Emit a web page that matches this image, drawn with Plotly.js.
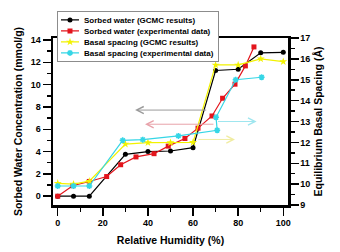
<!DOCTYPE html>
<html>
<head>
<meta charset="utf-8">
<script src="https://cdn.plot.ly/plotly-3.0.1.min.js"></script>
<style>
html,body{margin:0;padding:0;background:#fff;}
#chart{width:340px;height:252px;}
</style>
</head>
<body>
<div id="chart"></div>
<script>
// ---- data ----
var rhGCMC = [0, 7, 14, 30, 40, 50, 60, 70, 80, 90, 100];
var waterGCMC = [0, 0, 0, 3.75, 4.0, 4.05, 4.35, 11.27, 11.38, 12.85, 12.9];

var rhWaterExp = [0, 6.6, 14, 21.7, 27.9, 34.7, 42.7, 49, 56.4, 62.2, 68.4, 73.1, 78.6, 83.2, 87];
var waterExp = [0, 0.94, 1.32, 1.76, 2.82, 3.52, 3.81, 4.49, 5.17, 6.1, 7.19, 8.78, 10.04, 11.68, 13.38];

var rhBasalGCMC = [0, 7, 14, 30, 40, 50, 60, 70, 80, 90, 100];
var basalGCMC = [10.04, 10.0, 10.14, 11.92, 11.99, 11.99, 12.0, 15.71, 15.71, 16.0, 15.87];

var rhBasalExp = [0, 7, 14, 28.8, 37.7, 53.5, 70.7, 70.2, 78.9, 90.4];
var basalExp = [9.91, 9.91, 9.91, 12.1, 12.13, 12.31, 12.58, 13.2, 15.0, 15.12];

var seriesNames = [
  "Sorbed water (GCMC results)",
  "Sorbed water (experimental data)",
  "Basal spacing (GCMC results)",
  "Basal spacing (experimental data)"
];

// axis-indicator arrows: [y, tail x, head x]
var arrowWaterGCMC = [7.72, 66.5, 34.3];
var arrowWaterExp = [6.45, 69.7, 38.7];
var arrowBasalGCMC = [12.14, 61.7, 78.6];
var arrowBasalExp = [13.0, 70.4, 88.2];

var FONT = "Liberation Sans, Arial, sans-serif";

var traces = [
  {x: rhGCMC, y: waterGCMC, name: seriesNames[0], type: "scatter", mode: "lines+markers",
   line: {color: "#000000", width: 1.2}, marker: {color: "#000000", symbol: "circle", size: 5}, yaxis: "y"},
  {x: rhWaterExp, y: waterExp, name: seriesNames[1], type: "scatter", mode: "lines+markers",
   line: {color: "#e3141c", width: 1.2}, marker: {color: "#e3141c", symbol: "square", size: 5}, yaxis: "y"},
  {x: rhBasalGCMC, y: basalGCMC, name: seriesNames[2], type: "scatter", mode: "lines+markers",
   line: {color: "#f2f200", width: 1.2}, marker: {color: "#f2f200", symbol: "star", size: 6}, yaxis: "y2"},
  {x: rhBasalExp, y: basalExp, name: seriesNames[3], type: "scatter", mode: "lines+markers",
   line: {color: "#35d6e6", width: 1.2}, marker: {color: "#35d6e6", symbol: "asterisk-open", size: 5, line: {color: "#35d6e6", width: 1.5}}, yaxis: "y2"}
];

function arrow(a, yref, color) {
  return {x: a[2], y: a[0], ax: a[1], ay: a[0], xref: "x", yref: yref, axref: "x", ayref: yref,
          text: "", showarrow: true, arrowhead: 5, arrowsize: 1.4, arrowwidth: 1, arrowcolor: color};
}

var TITLE_FONT = {family: FONT, size: 10.5, weight: "bold", color: "#000"};
var TICK_FONT = {family: FONT, size: 9, weight: "bold", color: "#000"};

var layout = {
  width: 340, height: 252,
  margin: {l: 53, r: 52, t: 35, b: 47, pad: 0},
  paper_bgcolor: "#ffffff", plot_bgcolor: "#ffffff",
  font: {family: FONT, size: 9, color: "#000"},
  showlegend: true,
  legend: {x: 0.017, y: 1.159, xanchor: "left", yanchor: "top",
           bgcolor: "#ffffff", bordercolor: "#8c8c8c", borderwidth: 1,
           font: {family: FONT, size: 8, weight: "bold", color: "#000"},
           itemwidth: 30, tracegroupgap: 0},
  xaxis: {range: [-2.1, 102.1], tickvals: [0, 20, 40, 60, 80, 100],
          ticks: "outside", ticklen: 8, tickwidth: 1.5, tickcolor: "#000",
          minor: {dtick: 10, tick0: 0, ticks: "outside", ticklen: 4, tickwidth: 1.5, tickcolor: "#000"},
          showline: true, linewidth: 2.5, linecolor: "#000", mirror: true,
          showgrid: false, zeroline: false,
          tickfont: TICK_FONT,
          title: {text: "Relative Humidity (%)", font: TITLE_FONT, standoff: 10}},
  yaxis: {range: [-0.79, 14.18], tickvals: [0, 2, 4, 6, 8, 10, 12, 14],
          ticks: "outside", ticklen: 8, tickwidth: 1.5, tickcolor: "#000",
          minor: {dtick: 1, tick0: 0, ticks: "outside", ticklen: 4, tickwidth: 1.5, tickcolor: "#000"},
          showline: true, linewidth: 2.5, linecolor: "#000",
          showgrid: false, zeroline: false,
          tickfont: TICK_FONT,
          title: {text: "Sorbed Water Concentration (mmol/g)", font: TITLE_FONT, standoff: 6}},
  yaxis2: {range: [9, 17], dtick: 1, tick0: 9, overlaying: "y", side: "right",
          ticks: "outside", ticklen: 8, tickwidth: 1.5, tickcolor: "#000",
          minor: {dtick: 0.5, tick0: 9, ticks: "outside", ticklen: 4, tickwidth: 1.5, tickcolor: "#000"},
          showline: true, linewidth: 2.5, linecolor: "#000",
          showgrid: false, zeroline: false,
          tickfont: TICK_FONT,
          title: {text: "Equilibrium Basal Spacing (Å)", font: TITLE_FONT, standoff: 6}},
  annotations: [
    arrow(arrowWaterGCMC, "y", "#9a9a9a"),
    arrow(arrowWaterExp, "y", "#e8a2aa"),
    arrow(arrowBasalGCMC, "y2", "#f0eca0"),
    arrow(arrowBasalExp, "y2", "#9fe6ef")
  ]
};

Plotly.newPlot("chart", traces, layout, {staticPlot: true, displayModeBar: false}).then(function (gd) {
  // compact the legend rows to match the reference spacing
  try {
    var leg = gd.querySelector(".legend");
    var items = leg.querySelectorAll(".traces");
    var rowH = 11, firstY = 8.5;
    items.forEach(function (g, i) {
      var tr = g.getAttribute("transform") || "";
      var m = /translate\(([-\d.]+)[ ,]+([-\d.]+)\)/.exec(tr);
      var tx = m ? parseFloat(m[1]) : 1;
      g.setAttribute("transform", "translate(" + tx + "," + (firstY + i * rowH) + ")");
      var txt = g.querySelector("text.legendtext");
      if (txt) {
        txt.setAttribute("x", 26);
        txt.querySelectorAll("tspan").forEach(function (t) { if (t.hasAttribute("x")) t.setAttribute("x", 26); });
      }
      g.querySelectorAll(".legendlines path").forEach(function (p) { p.setAttribute("d", "M3,0h18"); });
      g.querySelectorAll(".legendpoints path").forEach(function (p) { p.setAttribute("transform", "translate(12,0)"); });
      var tog = g.querySelector(".legendtoggle");
      if (tog) tog.setAttribute("height", rowH);
    });
    var bg = leg.querySelector("rect.bg");
    if (bg) { bg.setAttribute("height", 50); bg.setAttribute("width", 161); }
  } catch (e) {}
});
</script>
</body>
</html>
